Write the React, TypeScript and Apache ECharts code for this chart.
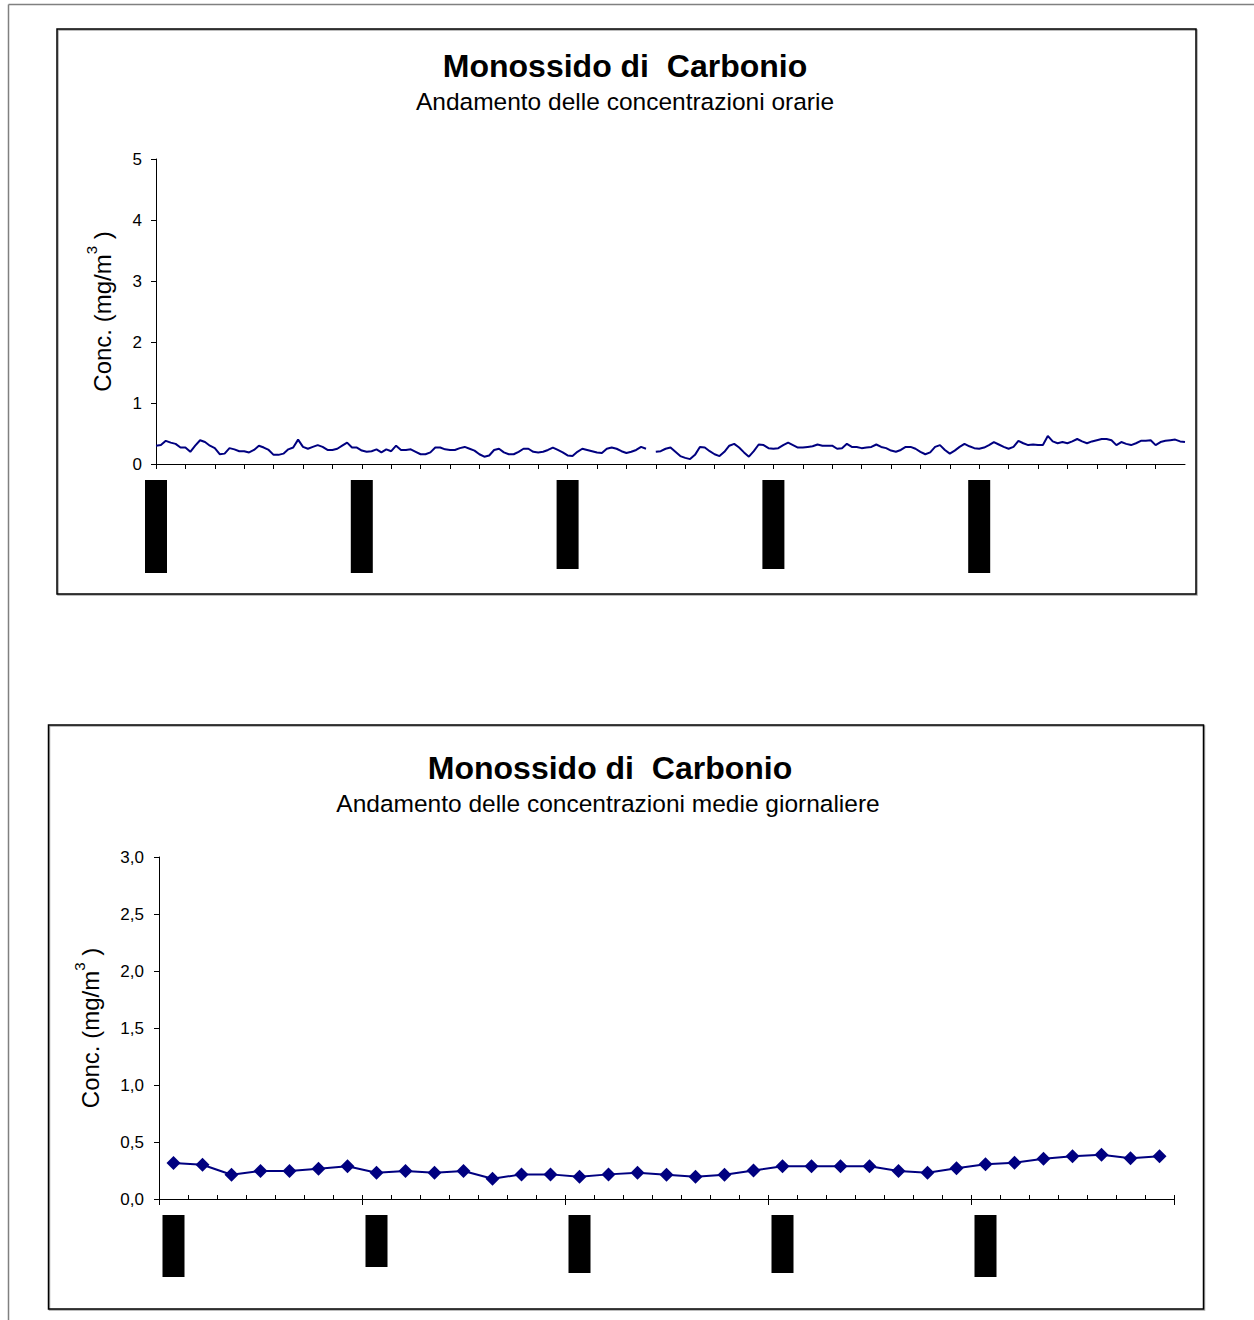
import React, { useEffect, useRef } from "react";
import * as echarts from "echarts";

// ---------- DATA ----------
const TITLE = "Monossido di  Carbonio";
const SUBTITLE_HOURLY = "Andamento delle concentrazioni orarie";
const SUBTITLE_DAILY = "Andamento delle concentrazioni medie giornaliere";

// hourly chart: one value every 4 hours over 35 days (0..840 h)
const HOUR_STEP = 4;
const hourlyValues: (number | null)[] = [
  0.30, 0.31, 0.38, 0.35, 0.33, 0.27, 0.27, 0.20, 0.30, 0.39, 0.36, 0.30,
  0.26, 0.16, 0.17, 0.26, 0.24, 0.21, 0.21, 0.19, 0.23, 0.30, 0.27, 0.23,
  0.15, 0.15, 0.17, 0.24, 0.27, 0.40, 0.28, 0.25, 0.28, 0.31, 0.28, 0.23,
  0.23, 0.25, 0.30, 0.35, 0.27, 0.27, 0.22, 0.20, 0.21, 0.24, 0.19, 0.24,
  0.21, 0.30, 0.23, 0.23, 0.24, 0.20, 0.16, 0.16, 0.19, 0.27, 0.27, 0.24,
  0.23, 0.23, 0.26, 0.28, 0.25, 0.22, 0.16, 0.12, 0.14, 0.23, 0.25, 0.19,
  0.16, 0.16, 0.20, 0.25, 0.25, 0.20, 0.19, 0.20, 0.23, 0.27, 0.23, 0.19,
  0.14, 0.13, 0.20, 0.25, 0.23, 0.21, 0.19, 0.18, 0.25, 0.27, 0.25, 0.21,
  0.18, 0.20, 0.23, 0.28, 0.25, null, 0.20, 0.21, 0.25, 0.27, 0.20, 0.13,
  0.10, 0.08, 0.15, 0.28, 0.27, 0.21, 0.16, 0.13, 0.20, 0.30, 0.33, 0.27,
  0.19, 0.12, 0.21, 0.32, 0.31, 0.26, 0.25, 0.26, 0.31, 0.35, 0.31, 0.27,
  0.27, 0.28, 0.29, 0.32, 0.30, 0.30, 0.30, 0.25, 0.26, 0.33, 0.28, 0.28,
  0.26, 0.27, 0.28, 0.32, 0.28, 0.26, 0.22, 0.20, 0.23, 0.28, 0.28, 0.25,
  0.20, 0.16, 0.19, 0.28, 0.31, 0.23, 0.17, 0.22, 0.28, 0.33, 0.29, 0.26,
  0.25, 0.27, 0.31, 0.36, 0.32, 0.28, 0.25, 0.28, 0.38, 0.34, 0.31, 0.32,
  0.31, 0.31, 0.46, 0.37, 0.34, 0.36, 0.34, 0.37, 0.41, 0.37, 0.34, 0.37,
  0.39, 0.41, 0.41, 0.39, 0.31, 0.36, 0.33, 0.31, 0.34, 0.38, 0.38, 0.39,
  0.31, 0.36, 0.38, 0.39, 0.40, 0.37, 0.36,
];
const HOURS_TOTAL = 840;
const HOURLY_Y_MAX = 5;
const HOURLY_Y_STEP = 1;
const HOURLY_LABEL_EVERY = 168; // one (blacked-out) date label per week
const hourlyLabelHeights = [93, 93, 89, 89, 93];

// daily chart: 35 daily means
const dailyValues = [
  0.316, 0.301, 0.213, 0.246, 0.246, 0.266, 0.287, 0.231, 0.246, 0.231,
  0.246, 0.178, 0.216, 0.216, 0.196, 0.216, 0.231, 0.213, 0.196, 0.213,
  0.251, 0.287, 0.287, 0.287, 0.287, 0.246, 0.231, 0.269, 0.304, 0.319,
  0.354, 0.374, 0.389, 0.357, 0.374,
];
const dailyCategories = dailyValues.map((_, i) => `G${i + 1}`);
const DAILY_Y_MAX = 3;
const DAILY_Y_STEP = 0.5;
const DAILY_LABEL_EVERY = 7;
const dailyLabelHeights = [62, 52, 58, 58, 62];

// ---------- STYLE ----------
const FONT = "'Liberation Sans', Arial, Helvetica, sans-serif";
const NAVY = "#000080";

export default function App() {
  const ref = useRef<HTMLDivElement>(null);

  useEffect(() => {
    if (!ref.current) return;
    const chart = echarts.init(ref.current, undefined, { renderer: "svg" });

    const hourlyData = hourlyValues.map((v, i) => [i * HOUR_STEP, v]);

    const topRich: Record<string, any> = {};
    hourlyLabelHeights.forEach((h, i) => {
      topRich["b" + i] = { width: 22, height: h, backgroundColor: "#000", fontSize: 1 };
    });
    const botRich: Record<string, any> = {};
    dailyLabelHeights.forEach((h, i) => {
      botRich["b" + i] = { width: 22, height: h, backgroundColor: "#000", fontSize: 1 };
    });

    const yName = "{n|Conc. (mg/m}{s|3}{n| )}";
    const yNameRich = {
      n: { fontSize: 24, fontFamily: FONT, color: "#000", lineHeight: 30, verticalAlign: "bottom" },
      s: { fontSize: 15, fontFamily: FONT, color: "#000", lineHeight: 15, verticalAlign: "top" },
    };

    const axisLineStyle = { show: true, lineStyle: { color: "#000", width: 1 } };
    const titleStyle = (text: string, size: number, bold: boolean) => ({
      text,
      fontSize: size,
      fontWeight: bold ? "bold" : "normal",
      fontFamily: FONT,
      fill: "#000",
      align: "center",
      verticalAlign: "middle",
      textAlign: "center",
      textVerticalAlign: "middle",
    });

    const option: any = {
      animation: false,
      backgroundColor: "#fff",
      graphic: [
        // page border
        { type: "line", shape: { x1: 8.5, y1: 4.5, x2: 1254, y2: 4.5 }, style: { stroke: "#808080", lineWidth: 1.5 } },
        { type: "line", shape: { x1: 8.5, y1: 4.5, x2: 8.5, y2: 1320 }, style: { stroke: "#808080", lineWidth: 1.5 } },
        // frames
        { type: "rect", shape: { x: 57, y: 29, width: 1139, height: 565 }, style: { fill: "none", stroke: "#000", lineWidth: 1.5, shadowColor: "rgba(0,0,0,0.35)", shadowOffsetX: 1, shadowOffsetY: 1, shadowBlur: 1 }, z: -1 },
        { type: "rect", shape: { x: 48.5, y: 725, width: 1155, height: 584 }, style: { fill: "none", stroke: "#000", lineWidth: 1.5, shadowColor: "rgba(0,0,0,0.35)", shadowOffsetX: 1, shadowOffsetY: 1, shadowBlur: 1 }, z: -1 },
        // titles
        { type: "text", x: 625, y: 66, style: titleStyle(TITLE, 32, true) },
        { type: "text", x: 625, y: 101, style: titleStyle(SUBTITLE_HOURLY, 24.5, false) },
        { type: "text", x: 610, y: 768, style: titleStyle(TITLE, 32, true) },
        { type: "text", x: 608, y: 803, style: titleStyle(SUBTITLE_DAILY, 24.5, false) },
      ],
      grid: [
        { left: 156, top: 159, width: 1029, height: 305, containLabel: false },
        { left: 159, top: 857, width: 1015, height: 342, containLabel: false },
      ],
      xAxis: [
        {
          gridIndex: 0,
          type: "value",
          min: 0,
          max: HOURS_TOTAL,
          interval: 24,
          position: "bottom",
          axisLine: axisLineStyle,
          axisTick: { show: true, length: 5, lineStyle: { color: "#000" } },
          splitLine: { show: false },
          axisLabel: {
            show: true,
            margin: 16,
            showMaxLabel: false,
            formatter: (v: number) => {
              if (v % HOURLY_LABEL_EVERY === 0 && v < HOURS_TOTAL) {
                return `{b${v / HOURLY_LABEL_EVERY}| }`;
              }
              return "";
            },
            rich: topRich,
          },
        },
        {
          gridIndex: 1,
          type: "category",
          data: dailyCategories,
          boundaryGap: true,
          position: "bottom",
          axisLine: axisLineStyle,
          axisTick: { show: true, inside: true, length: 4, interval: 0, lineStyle: { color: "#000" } },
          splitLine: { show: false },
          axisLabel: {
            show: true,
            interval: 0,
            margin: 16,
            formatter: (_v: string, i: number) => {
              if (i % DAILY_LABEL_EVERY === 0) return `{b${i / DAILY_LABEL_EVERY}| }`;
              return "";
            },
            rich: botRich,
          },
        },
        {
          gridIndex: 1,
          type: "value",
          min: 0,
          max: dailyValues.length,
          interval: DAILY_LABEL_EVERY,
          position: "bottom",
          axisLine: { show: false },
          axisTick: { show: true, length: 6, lineStyle: { color: "#000" } },
          axisLabel: { show: false },
          splitLine: { show: false },
        },
      ],
      yAxis: [
        {
          gridIndex: 0,
          type: "value",
          min: 0,
          max: HOURLY_Y_MAX,
          interval: HOURLY_Y_STEP,
          axisLine: axisLineStyle,
          axisTick: { show: true, length: 5, lineStyle: { color: "#000" } },
          splitLine: { show: false },
          axisLabel: { margin: 14, fontSize: 17, color: "#000", fontFamily: FONT },
          name: yName,
          nameLocation: "middle",
          nameGap: 42,
          nameTextStyle: { rich: yNameRich },
        },
        {
          gridIndex: 1,
          type: "value",
          min: 0,
          max: DAILY_Y_MAX,
          interval: DAILY_Y_STEP,
          axisLine: axisLineStyle,
          axisTick: { show: true, length: 5, lineStyle: { color: "#000" } },
          splitLine: { show: false },
          axisLabel: {
            margin: 15,
            fontSize: 17,
            color: "#000",
            fontFamily: FONT,
            formatter: (v: number) => v.toFixed(1).replace(".", ","),
          },
          name: yName,
          nameLocation: "middle",
          nameGap: 57,
          nameTextStyle: { rich: yNameRich },
        },
      ],
      series: [
        {
          type: "line",
          xAxisIndex: 0,
          yAxisIndex: 0,
          data: hourlyData,
          showSymbol: false,
          symbol: "none",
          connectNulls: false,
          lineStyle: { color: NAVY, width: 2 },
          itemStyle: { color: NAVY },
        },
        {
          type: "line",
          xAxisIndex: 1,
          yAxisIndex: 1,
          data: dailyValues,
          symbol: "diamond",
          symbolSize: 14,
          showSymbol: true,
          lineStyle: { color: NAVY, width: 2 },
          itemStyle: { color: NAVY },
        },
      ],
    };

    chart.setOption(option);
    return () => chart.dispose();
  }, []);

  return (
    <div
      ref={ref}
      style={{ position: "absolute", left: 0, top: 0, width: 1254, height: 1320, background: "#fff" }}
    />
  );
}
